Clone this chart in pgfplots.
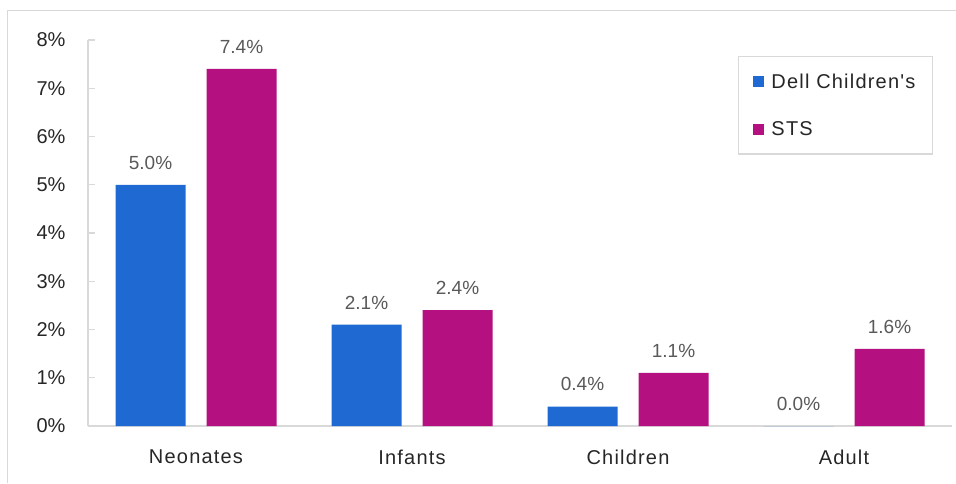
\documentclass[border=0pt]{standalone}
\usepackage{pgfplots}
\pgfplotsset{compat=1.18}
\usepackage{fontspec}
\setmainfont{Liberation Sans}
\newfontfamily\wide{Liberation Sans}[LetterSpace=6]
\definecolor{dellblue}{HTML}{1F69D2}
\definecolor{stsmag}{HTML}{B41080}
\definecolor{axgray}{HTML}{D9D9D9}
\definecolor{txtdark}{HTML}{262626}
\definecolor{valgray}{HTML}{595959}
\begin{document}
\begin{tikzpicture}[x=1pt,y=1pt]
\path[use as bounding box] (0,0) rectangle (956,483);
\draw[axgray, line width=1.5pt] (7.5,0) -- (7.5,472.5) -- (956,472.5);
\begin{axis}[
    at={(88pt,57pt)}, anchor=south west,
    scale only axis, width=864pt, height=386pt,
    ybar=21pt, bar width=70pt,
    xmin=-0.5, xmax=3.5, ymin=0, ymax=8,
    axis lines*=left,
    axis line style={axgray, line width=1.2pt},
    xtick={0,1,2,3},
    xticklabels={Neonates, Infants, Children, Adult},
    x tick style={draw=none},
    x tick label style={font=\fontsize{20}{24}\selectfont\wide, text=txtdark, yshift=-20pt},
    ytick={0,...,8},
    yticklabel={\pgfmathprintnumber{\tick}\%},
    y tick style={axgray, line width=1.2pt},
    tick align=inside, major tick length=7pt,
    y tick label style={font=\fontsize{20}{24}\selectfont, text=txtdark, xshift=-19pt},
    /pgf/number format/assume math mode=true,
    nodes near coords={\pgfmathprintnumber[fixed,fixed zerofill,precision=1]{\pgfplotspointmeta}\%},
    every node near coord/.append style={font=\fontsize{19}{23}\selectfont, text=valgray, yshift=12pt},
    legend style={at={(0.978,0.9585)}, anchor=north east, draw=axgray, line width=1.2pt,
        font=\fontsize{20}{24}\selectfont\wide, text=txtdark,
        inner xsep=15pt, inner ysep=15pt, row sep=28pt,
        legend cell align=left},
    legend image code/.code={\fill[#1, draw=none] (0pt,-5.5pt) rectangle (11pt,5.5pt);},
    legend entries={\hspace{5pt}Dell Children's, \hspace{5pt}STS},
]
\addplot[fill=dellblue, draw=none] coordinates {(0,5.0) (1,2.1) (2,0.4) (3,0.0)};
\addplot[fill=stsmag, draw=none] coordinates {(0,7.4) (1,2.4) (2,1.1) (3,1.6)};
\end{axis}
\end{tikzpicture}
\end{document}
